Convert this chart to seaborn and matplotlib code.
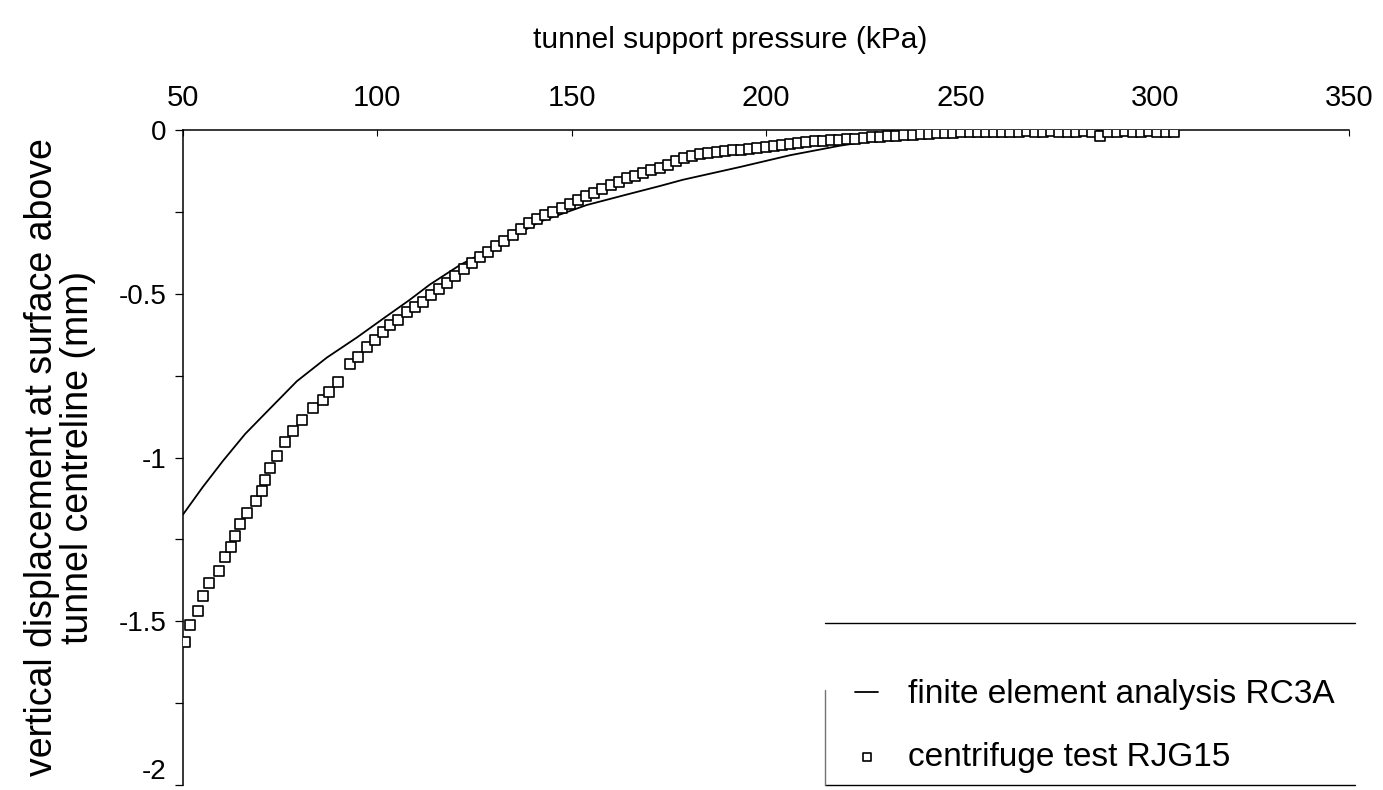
import matplotlib
matplotlib.use("Agg")
import matplotlib.pyplot as plt
from matplotlib.ticker import MultipleLocator
from matplotlib.lines import Line2D
import seaborn as sns
import pandas as pd

# Finite element analysis RC3A: surface settlement vs. support pressure
fe_pressure = [50.0, 55.1, 60.3, 66.0, 71.6, 79.3, 87.0, 94.8, 101.5, 108.4, 113.5,
               121.3, 131.6, 141.8, 153.9, 164.2, 172.7, 178.6, 193.3, 206.2, 219.0,
               234.5, 250.0, 265.0, 280.0, 300.0]
fe_disp = [-1.174, -1.090, -1.010, -0.928, -0.860, -0.767, -0.695, -0.633, -0.576,
           -0.518, -0.472, -0.412, -0.348, -0.280, -0.229, -0.197, -0.171, -0.152,
           -0.113, -0.077, -0.048, -0.020, -0.009, -0.006, -0.005, -0.004]

# Centrifuge test RJG15
cf_pressure = [50.5, 51.8, 53.9, 55.1, 56.7, 59.3, 60.8, 62.3, 63.4, 64.7, 66.5,
               68.8, 70.3, 71.1, 72.4, 74.2, 76.2, 78.3, 80.6, 83.4, 86.0, 87.6,
               89.9, 93.0, 95.0, 97.3, 99.4, 101.5, 103.3, 105.3, 107.6, 109.7, 111.7,
               113.8, 115.9, 118.0, 120.1, 122.2, 124.3, 126.4, 128.5, 130.6, 132.7,
               134.8, 136.9, 139.0, 141.1, 143.2, 145.3, 147.4, 149.5, 151.6, 153.7,
               155.8, 157.9, 160.0, 162.1, 164.2, 166.3, 168.4, 170.5, 172.6, 174.7,
               176.8, 178.9, 181.0, 183.1, 185.2, 187.3, 189.4, 191.5, 193.6, 195.7,
               197.8, 199.9, 202.0, 204.1, 206.2, 208.3, 210.4, 212.5, 214.6, 216.7,
               218.8, 220.9, 223.0, 225.1, 227.2, 229.3, 231.4, 233.5, 235.6, 237.7,
               239.8, 241.9, 244.0, 246.1, 248.2, 250.3, 252.4, 254.5, 256.6, 258.7,
               260.8, 262.9, 265.0, 267.1, 269.2, 271.3, 273.4, 275.5, 277.6, 279.7,
               281.8, 283.9, 286.0, 288.1, 290.2, 292.3, 294.4, 296.5, 298.6, 300.7,
               302.8, 304.9]
cf_disp = [-1.564, -1.512, -1.470, -1.424, -1.384, -1.347, -1.304, -1.273, -1.240,
           -1.203, -1.170, -1.132, -1.102, -1.068, -1.032, -0.994, -0.954, -0.920,
           -0.886, -0.850, -0.824, -0.800, -0.768, -0.716, -0.694, -0.663, -0.641,
           -0.616, -0.595, -0.579, -0.556, -0.541, -0.525,
           -0.505, -0.487, -0.467, -0.447, -0.425, -0.406, -0.388, -0.371, -0.354,
           -0.338, -0.322, -0.301, -0.285, -0.272, -0.260, -0.249, -0.238, -0.226,
           -0.214, -0.203, -0.191, -0.179, -0.168, -0.158, -0.148, -0.139, -0.131,
           -0.123, -0.116, -0.106, -0.096, -0.087, -0.079, -0.072, -0.069, -0.067,
           -0.065, -0.062, -0.060, -0.057, -0.055, -0.052, -0.050, -0.046, -0.043,
           -0.040, -0.037, -0.035, -0.033, -0.032, -0.030, -0.028, -0.026, -0.024,
           -0.022, -0.020, -0.019, -0.017, -0.015, -0.014, -0.012, -0.011, -0.010,
           -0.009, -0.008, -0.007, -0.006, -0.007, -0.005, -0.006, -0.005, -0.006,
           -0.005, -0.004, -0.006, -0.005, -0.004, -0.005, -0.006, -0.005, -0.004,
           -0.006, -0.018, -0.006, -0.005, -0.004, -0.006, -0.005, -0.004, -0.006,
           -0.005, -0.005]

x_ticks = [50, 100, 150, 200, 250, 300, 350]
y_ticks = [0, -0.5, -1, -1.5, -2]
y_tick_labels = ["0", "-0.5", "-1", "-1.5", "-2"]

fe_label = "finite element analysis RC3A"
cf_label = "centrifuge test RJG15"

sns.set_theme(style="white")
plt.rcParams["font.family"] = ["Liberation Sans", "DejaVu Sans"]
plt.rcParams["text.color"] = "black"
plt.rcParams["axes.labelcolor"] = "black"
plt.rcParams["xtick.color"] = "black"
plt.rcParams["ytick.color"] = "black"

W, H = 1383, 790
fig = plt.figure(figsize=(W / 100, H / 100), dpi=100)
ax = fig.add_axes([183 / W, 5 / H, 1166 / W, 655 / H])

fe_df = pd.DataFrame({"p": fe_pressure, "d": fe_disp})
cf_df = pd.DataFrame({"p": cf_pressure, "d": cf_disp})

sns.lineplot(data=fe_df, x="p", y="d", ax=ax, color="black", linewidth=1.3,
             label=fe_label, sort=False, zorder=2)
sns.scatterplot(data=cf_df, x="p", y="d", ax=ax, marker="s", s=52,
                facecolor="white", edgecolor="black", linewidth=1.2,
                label=cf_label, zorder=3)

ax.set_xlim(50, 350)
ax.set_ylim(-2, 0)
ax.set_xticks(x_ticks)
ax.set_yticks(y_ticks)
ax.set_yticklabels(y_tick_labels)
ax.yaxis.set_minor_locator(MultipleLocator(0.25))

for side in ("right", "bottom"):
    ax.spines[side].set_visible(False)
for side in ("left", "top"):
    ax.spines[side].set_color("black")
    ax.spines[side].set_linewidth(1.1)

ax.xaxis.tick_top()
ax.xaxis.set_label_position("top")
ax.tick_params(axis="x", which="major", direction="in", length=4, width=0.8,
               pad=13, labelsize=21, top=True, bottom=False)
ax.tick_params(axis="y", which="both", direction="out", length=6, width=0.9,
               pad=6, labelsize=20, left=True)
ax.tick_params(axis="y", which="minor", labelleft=False)
# lowest tick label sits on the figure edge; lift it slightly
ax.get_yticklabels()[-1].set_verticalalignment("bottom")

ax.set_xlabel("tunnel support pressure (kPa)", fontsize=21.5, labelpad=24)
ax.xaxis.set_label_coords((730 - 183) / 1166, 1 + (130 - 40) / 655)
ax.xaxis.label.set_verticalalignment("center")
ax.set_ylabel("vertical displacement at surface above\ntunnel centreline (mm)",
              fontsize=27, labelpad=16, linespacing=1.0)

# legend box outline: top and bottom rules with a light left edge
bx0, bx1 = (825 - 183) / 1166, (1355 - 183) / 1166
by0, by1 = 0.0, (785 - 623) / 655
for xs, ys, col in (([bx0, bx1], [by1, by1], "black"),
                    ([bx0, bx1], [by0, by0], "black"),
                    ([bx0, bx0], [by0, (785 - 690) / 655], "0.45")):
    ax.add_line(Line2D(xs, ys, transform=ax.transAxes, color=col, linewidth=1.0,
                       clip_on=False, zorder=5))

leg = ax.legend(loc="center left",
                bbox_to_anchor=((855 - 183) / 1166, (785 - 726) / 655),
                frameon=False, fontsize=24, handlelength=0.7, handletextpad=0.9,
                borderpad=0, borderaxespad=0, labelspacing=0.95, markerscale=0.8)

fig.savefig("out.png", dpi=100, facecolor="white")
